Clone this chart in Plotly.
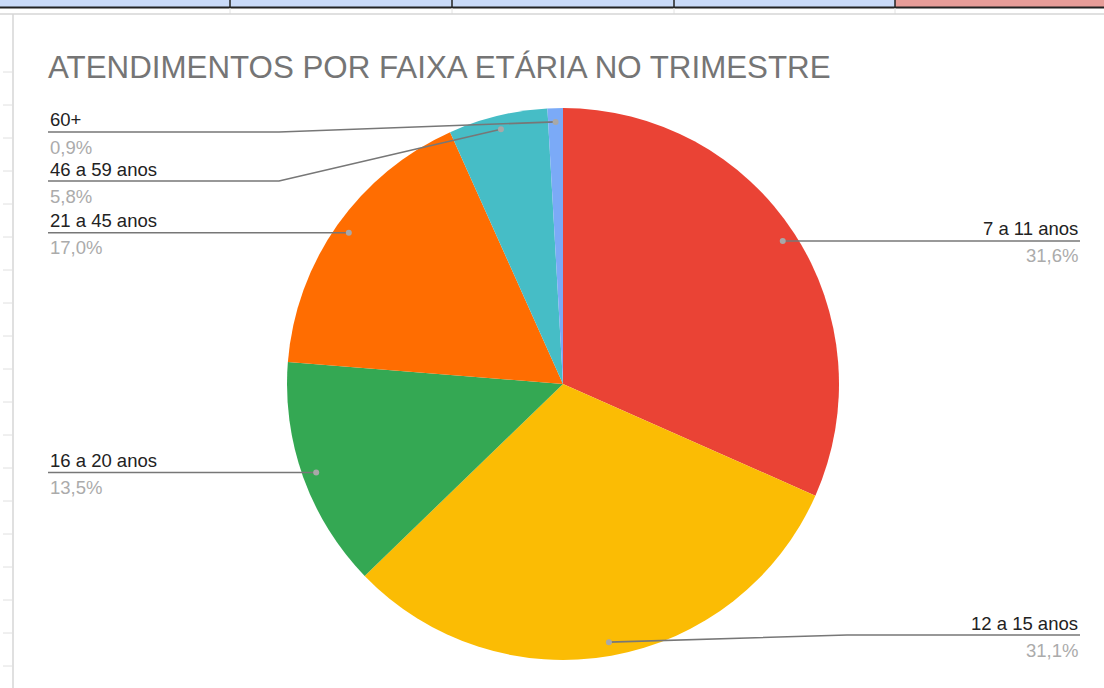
import math
import plotly.graph_objects as go

W, H = 1104, 688

# ---- data ----
categories = ["7 a 11 anos", "12 a 15 anos", "16 a 20 anos", "21 a 45 anos", "46 a 59 anos", "60+"]
values = [31.6, 31.1, 13.5, 17.0, 5.8, 0.9]
pct_labels = ["31,6%", "31,1%", "13,5%", "17,0%", "5,8%", "0,9%"]
colors = ["#EA4335", "#FBBC04", "#34A853", "#FF6D01", "#46BDC6", "#7BAAF7"]
title_text = "ATENDIMENTOS POR FAIXA ETÁRIA NO TRIMESTRE"

# ---- layout geometry (pixels) ----
CX, CY, R = 563, 384, 276
DOT_R = 0.95 * R
LEFT_X, RIGHT_X = 48, 1080
TOP_LINE, BOT_LINE, SPACING = 132, 635, 49
FONT = "Liberation Sans, Arial, Helvetica, sans-serif"


def px(x):
    return x / W


def py(y):
    return 1 - y / H


fig = go.Figure()
fig.add_trace(go.Pie(
    labels=categories, values=values, sort=False, direction="clockwise", rotation=0,
    marker=dict(colors=colors, line=dict(width=0)),
    textinfo="none", hoverinfo="label+percent", showlegend=False,
    domain=dict(x=[px(CX - R), px(CX + R)], y=[py(CY + R), py(CY - R)]),
))

shapes = []
annotations = []

# spreadsheet strip at the top
shapes.append(dict(type="rect", xref="paper", yref="paper", x0=0, x1=px(895), y0=py(7), y1=1,
                   fillcolor="#C9DAF8", line=dict(width=0), layer="below"))
shapes.append(dict(type="rect", xref="paper", yref="paper", x0=px(895), x1=1, y0=py(7), y1=1,
                   fillcolor="#E69C98", line=dict(width=0), layer="below"))
shapes.append(dict(type="line", xref="paper", yref="paper", x0=0, x1=1, y0=py(7.5), y1=py(7.5),
                   line=dict(color="#222222", width=2)))
for xv in [230, 452, 674, 895]:
    shapes.append(dict(type="line", xref="paper", yref="paper", x0=px(xv), x1=px(xv), y0=py(8), y1=1,
                       line=dict(color="#222222", width=1.5)))
    shapes.append(dict(type="line", xref="paper", yref="paper", x0=px(xv), x1=px(xv), y0=py(14), y1=py(8),
                       line=dict(color="#E2E2E2", width=1)))
shapes.append(dict(type="line", xref="paper", yref="paper", x0=0, x1=1, y0=py(14), y1=py(14),
                   line=dict(color="#D6D6D6", width=1.5)))
# chart border left
shapes.append(dict(type="line", xref="paper", yref="paper", x0=px(13), x1=px(13), y0=0, y1=py(14),
                   line=dict(color="#D6D6D6", width=1.5)))
for k in range(-7, 12):
    yy = 303 + 33 * k
    if 20 < yy < H:
        shapes.append(dict(type="line", xref="paper", yref="paper", x0=px(3), x1=px(12), y0=py(yy), y1=py(yy),
                           line=dict(color="#E0E0E0", width=1)))

# label placement
total = sum(values)
cum = 0
items = []
for name, v, p in zip(categories, values, pct_labels):
    mid = (cum + v / 2) / total * 2 * math.pi
    cum += v
    dx = DOT_R * math.sin(mid)
    dy = -DOT_R * math.cos(mid)
    items.append(dict(name=name, pct=p, dx=CX + dx, dy=CY + dy, side="right" if dx >= 0 else "left"))

for side in ["left", "right"]:
    grp = sorted([it for it in items if it["side"] == side], key=lambda it: it["dy"])
    prev = None
    for it in grp:
        ly = max(it["dy"], TOP_LINE)
        if prev is not None:
            ly = max(ly, prev + SPACING)
        ly = min(ly, BOT_LINE)
        it["ly"] = ly
        prev = ly

for it in items:
    left = it["side"] == "left"
    x_end = LEFT_X if left else RIGHT_X
    elbow = CX - (R + 8) if left else CX + (R + 8)
    if abs(it["ly"] - it["dy"]) < 1.5:
        path = f"M {px(it['dx'])},{py(it['dy'])} L {px(x_end)},{py(it['ly'])}"
    else:
        path = (f"M {px(it['dx'])},{py(it['dy'])} L {px(elbow)},{py(it['ly'])} "
                f"L {px(x_end)},{py(it['ly'])}")
    shapes.append(dict(type="path", xref="paper", yref="paper", path=path,
                       line=dict(color="#777777", width=1.6)))
    shapes.append(dict(type="circle", xref="paper", yref="paper",
                       x0=px(it["dx"] - 3), x1=px(it["dx"] + 3), y0=py(it["dy"] + 3), y1=py(it["dy"] - 3),
                       fillcolor="#A8A8A8", line=dict(width=0)))
    xanchor = "left" if left else "right"
    annotations.append(dict(xref="paper", yref="paper", x=px(x_end), y=py(it["ly"] - 12),
                            text=it["name"], showarrow=False, xanchor=xanchor, yanchor="middle",
                            font=dict(family=FONT, size=18.5, color="#222222")))
    annotations.append(dict(xref="paper", yref="paper", x=px(x_end), y=py(it["ly"] + 15),
                            text=it["pct"], showarrow=False, xanchor=xanchor, yanchor="middle",
                            font=dict(family=FONT, size=18.5, color="#ABABAB")))

annotations.append(dict(xref="paper", yref="paper", x=px(46), y=py(67), text=title_text,
                        showarrow=False, xanchor="left", yanchor="middle",
                        font=dict(family=FONT, size=31.3, color="#757575")))

fig.update_layout(
    width=W, height=H, margin=dict(l=0, r=0, t=0, b=0),
    paper_bgcolor="white", plot_bgcolor="white",
    shapes=shapes, annotations=annotations,
)

fig.write_html("out.html", config={"displayModeBar": False},
               post_script="document.body.style.margin='0';document.body.style.overflow='hidden';")
